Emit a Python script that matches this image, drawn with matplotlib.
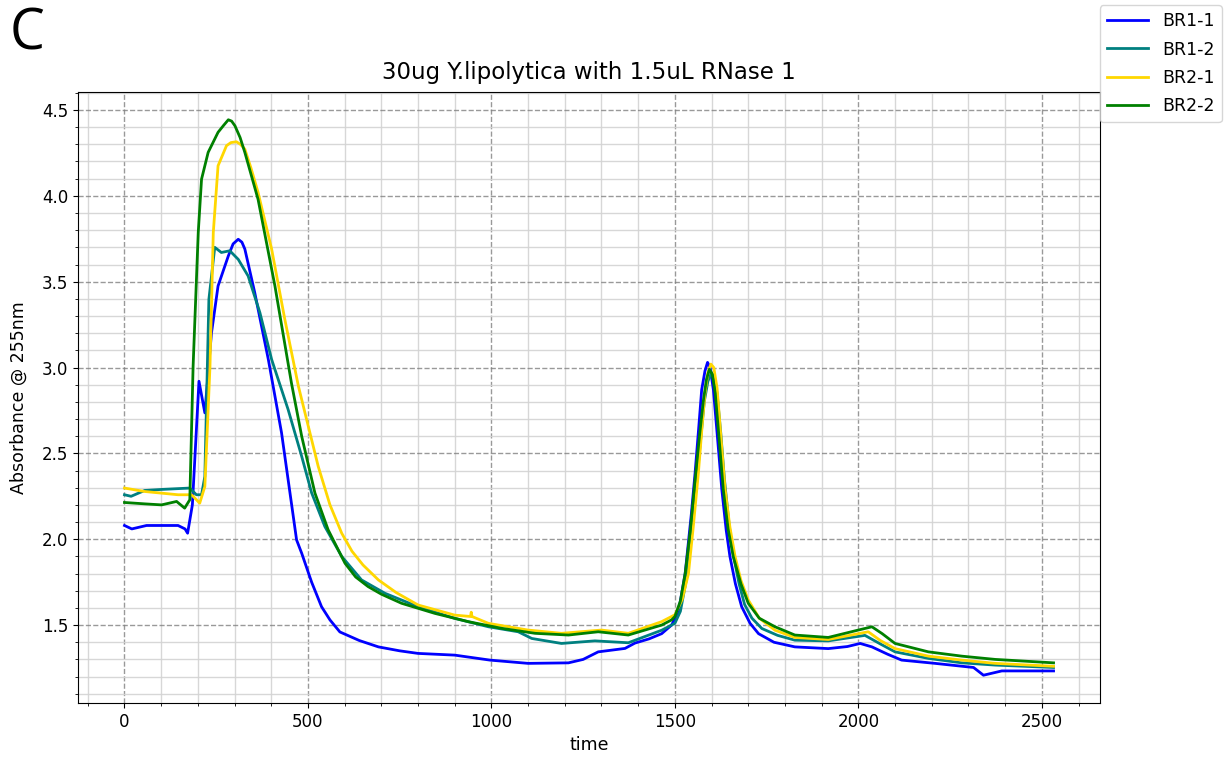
import numpy as np
import matplotlib
matplotlib.use('Agg')
import matplotlib.pyplot as plt
from matplotlib.ticker import MultipleLocator

# Absorbance traces (time, A255)
br11_t = [0, 20, 60, 146, 165, 172, 185, 203, 219, 237, 255, 283, 296, 310, 320, 328,
          355, 392, 428, 469, 483, 510, 537, 560, 587, 640, 692, 750, 800, 900, 996,
          1100, 1210, 1250, 1291, 1364, 1391, 1430, 1464, 1491, 1510, 1528, 1545, 1555,
          1565, 1573, 1582, 1589, 1596, 1605, 1615, 1628, 1640, 1650, 1665, 1682, 1705,
          1728, 1770, 1827, 1918, 1970, 2005, 2037, 2080, 2118, 2209, 2314, 2341, 2391,
          2532]
br11_a = [2.08, 2.06, 2.08, 2.08, 2.06, 2.035, 2.2, 2.92, 2.736, 3.20, 3.475, 3.65,
          3.72, 3.747, 3.73, 3.69, 3.436, 3.047, 2.62, 1.996, 1.918, 1.75, 1.607, 1.53,
          1.46, 1.41, 1.373, 1.35, 1.335, 1.325, 1.296, 1.277, 1.28, 1.30, 1.344, 1.364,
          1.395, 1.42, 1.45, 1.50, 1.58, 1.80, 2.15, 2.385, 2.65, 2.87, 2.98, 3.03, 3.00,
          2.87, 2.62, 2.288, 2.05, 1.90, 1.74, 1.607, 1.51, 1.45, 1.40, 1.373, 1.363,
          1.375, 1.393, 1.373, 1.33, 1.296, 1.277, 1.253, 1.208, 1.233, 1.233]

br12_t = [0, 18, 55, 101, 178, 196, 210, 219, 230, 246, 264, 287, 310, 337, 369, 401,
          446, 483, 510, 546, 592, 646, 710, 800, 900, 992, 1073, 1110, 1191, 1282,
          1373, 1464, 1500, 1515, 1530, 1545, 1560, 1572, 1580, 1590, 1600, 1608, 1615,
          1625, 1635, 1648, 1660, 1675, 1690, 1710, 1737, 1780, 1827, 1918, 2018, 2060,
          2100, 2191, 2282, 2373, 2532]
br12_a = [2.259, 2.25, 2.284, 2.29, 2.298, 2.259, 2.259, 2.366, 3.397, 3.70, 3.67,
          3.68, 3.63, 3.533, 3.32, 3.047, 2.755, 2.482, 2.27, 2.074, 1.90, 1.763, 1.685,
          1.607, 1.539, 1.49, 1.461, 1.422, 1.393, 1.408, 1.397, 1.47, 1.51, 1.58, 1.75,
          2.02, 2.35, 2.62, 2.8, 2.92, 2.97, 2.93, 2.85, 2.62, 2.35, 2.08, 1.90, 1.74,
          1.62, 1.54, 1.48, 1.44, 1.412, 1.408, 1.44, 1.39, 1.344, 1.306, 1.28, 1.267,
          1.253]

br21_t = [0, 55, 146, 183, 205, 219, 233, 242, 255, 278, 290, 305, 316, 328, 345, 364,
          401, 437, 474, 483, 528, 560, 592, 620, 650, 692, 740, 800, 900, 943, 945,
          947, 992, 1100, 1191, 1300, 1373, 1464, 1500, 1520, 1537, 1550, 1564, 1575,
          1582, 1590, 1598, 1606, 1615, 1626, 1637, 1650, 1664, 1680, 1700, 1730, 1773,
          1827, 1918, 2027, 2060, 2100, 2191, 2282, 2373, 2532]
br21_a = [2.298, 2.278, 2.259, 2.259, 2.21, 2.307, 3.007, 3.786, 4.175, 4.292, 4.31,
          4.315, 4.30, 4.272, 4.16, 4.02, 3.69, 3.28, 2.891, 2.813, 2.424, 2.2, 2.035,
          1.93, 1.85, 1.763, 1.69, 1.617, 1.558, 1.55, 1.575, 1.55, 1.51, 1.471, 1.452,
          1.471, 1.452, 1.52, 1.56, 1.65, 1.80, 2.07, 2.385, 2.68, 2.85, 2.97, 3.02, 3.0,
          2.88, 2.58, 2.288, 2.07, 1.90, 1.76, 1.646, 1.54, 1.47, 1.428, 1.416, 1.461,
          1.41, 1.363, 1.319, 1.296, 1.277, 1.26]

br22_t = [0, 55, 101, 142, 164, 178, 187, 201, 210, 228, 255, 270, 283, 292, 301, 315,
          328, 364, 410, 455, 483, 519, 555, 601, 630, 664, 700, 755, 846, 937, 1028,
          1119, 1210, 1291, 1373, 1464, 1491, 1500, 1515, 1528, 1542, 1555, 1568, 1578,
          1586, 1594, 1602, 1610, 1620, 1632, 1645, 1659, 1680, 1700, 1730, 1773, 1827,
          1918, 2000, 2037, 2065, 2100, 2191, 2282, 2373, 2532]
br22_a = [2.214, 2.206, 2.20, 2.22, 2.181, 2.23, 3.007, 3.786, 4.097, 4.253, 4.37,
          4.41, 4.443, 4.435, 4.408, 4.34, 4.253, 3.98, 3.475, 2.91, 2.599, 2.269, 2.055,
          1.86, 1.78, 1.724, 1.68, 1.627, 1.568, 1.52, 1.481, 1.452, 1.442, 1.461, 1.442,
          1.50, 1.53, 1.55, 1.64, 1.80, 2.05, 2.346, 2.62, 2.813, 2.93, 2.99, 2.96, 2.85,
          2.6, 2.288, 2.06, 1.90, 1.74, 1.627, 1.54, 1.49, 1.442, 1.428, 1.471, 1.49,
          1.45, 1.393, 1.344, 1.319, 1.30, 1.28]

labels = ['BR1-1', 'BR1-2', 'BR2-1', 'BR2-2']
colors = ['blue', 'teal', 'gold', 'green']
series = [(br11_t, br11_a), (br12_t, br12_a), (br21_t, br21_a), (br22_t, br22_a)]

fig = plt.figure(figsize=(12.27, 7.59), dpi=100)
ax = fig.add_axes([0.0636, 0.0738, 0.8329, 0.805])

for (t, a), lab, c in zip(series, labels, colors):
    ax.plot(t, a, color=c, lw=2, label=lab)

ax.xaxis.set_major_locator(MultipleLocator(500))
ax.xaxis.set_minor_locator(MultipleLocator(100))
ax.yaxis.set_major_locator(MultipleLocator(0.5))
ax.yaxis.set_minor_locator(MultipleLocator(0.1))
ax.grid(which='major', linestyle='--', color='gray', alpha=0.8, lw=1)
ax.grid(which='minor', linestyle='-', color='lightgray', alpha=0.9, lw=1)
ax.tick_params(labelsize=12)

ax.set_title('30ug Y.lipolytica with 1.5uL RNase 1', fontsize=16.5, pad=9)
ax.set_xlabel('time', fontsize=12.5)
ax.set_ylabel('Absorbance @ 255nm', fontsize=12.5, labelpad=10)

fig.legend(loc='upper right', fontsize=12.5, bbox_to_anchor=(1.0, 1.0),
           borderaxespad=0.3, labelspacing=0.6, handlelength=2.4)
fig.text(0.008, 0.935, 'C', fontsize=40, family='Open Sans')

fig.savefig('out.png', dpi=100)
